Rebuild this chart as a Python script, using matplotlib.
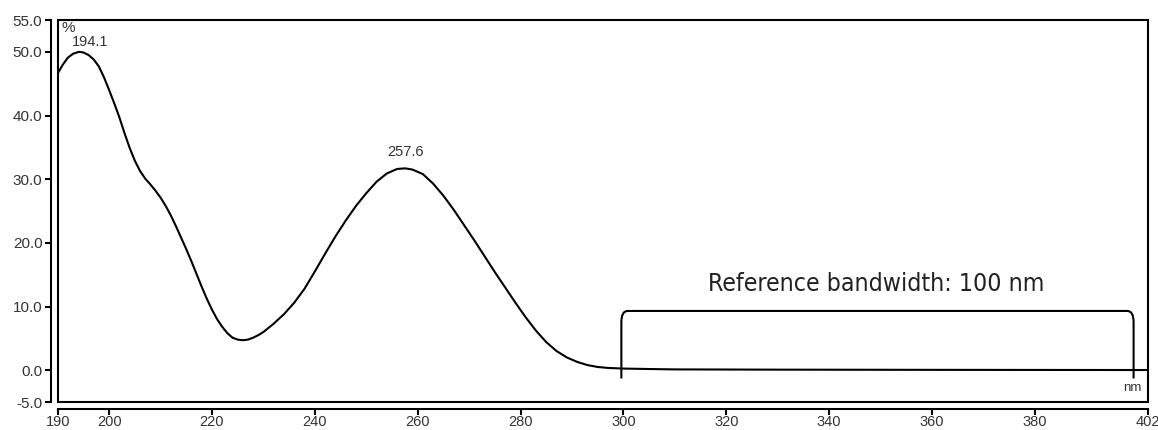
import matplotlib
matplotlib.use("Agg")
import matplotlib.pyplot as plt
from matplotlib.path import Path
from matplotlib.patches import PathPatch, Rectangle

plt.rcParams['font.family'] = ['Liberation Sans', 'DejaVu Sans']

# Spectrum (wavelength nm, %)
wavelength = [190, 191, 192, 193, 194.1, 195, 196, 197, 198, 199,
              200, 201, 202, 203, 204, 205, 206, 207, 208, 209,
              210, 211, 212, 213, 214, 215, 216, 217, 218, 219,
              220, 221, 222, 223, 224, 225, 226, 227, 228, 229,
              230, 232, 234, 236, 238, 240, 242, 244, 246, 248,
              250, 252, 254, 256, 257.6, 259, 261, 263, 265, 267,
              269, 271, 273, 275, 277, 279, 281, 283, 285, 287,
              289, 291, 293, 295, 297, 300, 305, 310, 330, 360, 402]
percent = [46.6, 48.0, 49.1, 49.7, 50.0, 49.9, 49.5, 48.8, 47.7, 46.0,
           44.0, 41.9, 39.7, 37.2, 34.9, 32.9, 31.3, 30.1, 29.2, 28.2,
           27.1, 25.8, 24.3, 22.6, 20.8, 19.0, 17.1, 15.1, 13.1, 11.2,
           9.5, 8.0, 6.8, 5.8, 5.1, 4.8, 4.7, 4.8, 5.1, 5.5,
           6.0, 7.3, 8.8, 10.6, 12.8, 15.5, 18.3, 21.0, 23.5, 25.8,
           27.8, 29.6, 30.9, 31.6, 31.7, 31.5, 30.8, 29.3, 27.4, 25.2,
           22.8, 20.4, 17.9, 15.4, 13.0, 10.6, 8.3, 6.2, 4.4, 3.0,
           2.0, 1.3, 0.8, 0.5, 0.35, 0.25, 0.18, 0.12, 0.08, 0.05, 0.02]

peak_labels = ["194.1", "257.6"]
peak_x = [196.3, 257.7]
peak_y = [51.6, 34.3]

band_start, band_end = 299.6, 399.2
band_low, band_high = -1.3, 9.3
band_text = "Reference bandwidth: 100 nm"

x_ticks = [190, 200, 220, 240, 260, 280, 300, 320, 340, 360, 380, 402]
y_ticks = [-5.0, 0.0, 10.0, 20.0, 30.0, 40.0, 50.0, 55.0]

fig = plt.figure(figsize=(11.58, 4.30), dpi=100)
ax = fig.add_axes([57.7 / 1158, 28 / 430, (1148 - 57.7) / 1158, (402 - 20) / 430])

ax.plot(wavelength, percent, color='black', lw=1.5, solid_joinstyle='round')

# bracket for reference bandwidth
cx = 1.2
cy = 1.8
verts = [(band_start, band_low), (band_start, band_high - cy), (band_start, band_high),
         (band_start + cx, band_high), (band_end - cx, band_high), (band_end, band_high),
         (band_end, band_high - cy), (band_end, band_low)]
codes = [Path.MOVETO, Path.LINETO, Path.CURVE3, Path.CURVE3, Path.LINETO,
         Path.CURVE3, Path.CURVE3, Path.LINETO]
ax.add_patch(PathPatch(Path(verts, codes), fill=False, lw=1.5, color='black'))
ax.text((band_start + band_end) / 2 - 0.2, band_high + 4.3, band_text, ha='center', va='center',
        fontsize=17.8, color='#222222', family='DejaVu Sans', fontstretch='condensed')

for lab, px, py in zip(peak_labels, peak_x, peak_y):
    ax.text(px, py, lab, ha='center', va='center', fontsize=10.5, color='#333333')

ax.text(192.0, 53.8, '%', ha='center', va='center', fontsize=11, color='#333333')
ax.text(398.9, -2.8, 'nm', ha='center', va='center', fontsize=9.5, color='#333333')

ax.set_xlim(190, 402)
ax.set_ylim(-5, 55)
ax.set_xticks(x_ticks)
ax.set_xticklabels([str(t) for t in x_ticks])
ax.set_yticks(y_ticks)
ax.set_yticklabels([f"{t:.1f}" for t in y_ticks])

for s in ['top', 'right']:
    ax.spines[s].set_visible(False)
for s in ['left', 'bottom']:
    ax.spines[s].set_position(('outward', 5))
    ax.spines[s].set_linewidth(1.5)
ax.spines['left'].set_bounds(-5, 55)
ax.spines['bottom'].set_bounds(190, 402)

ax.add_patch(Rectangle((0, 0), 1, 1, transform=ax.transAxes, fill=False,
                       lw=1.5, edgecolor='black', clip_on=False))

ax.tick_params(axis='both', direction='out', length=4, width=1.5, colors='black',
               labelcolor='#333333', pad=1.5)
ax.tick_params(axis='y', labelsize=11, pad=2)
ax.tick_params(axis='x', labelsize=10.5, pad=0.5)

fig.savefig('out.png', dpi=100)
